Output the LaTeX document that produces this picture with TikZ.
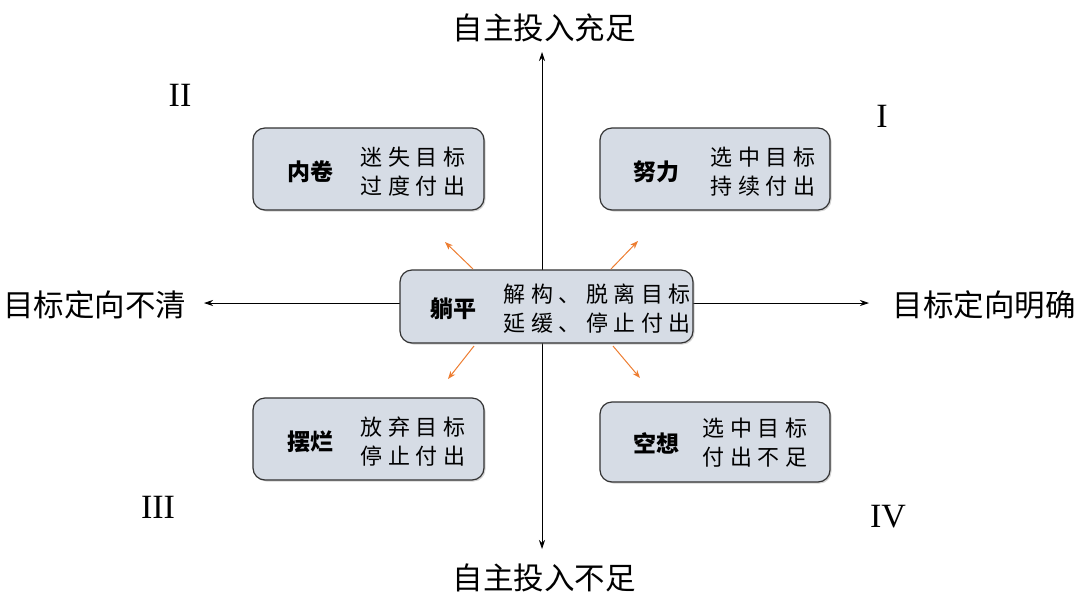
\documentclass[tikz,border=0pt]{standalone}
\usepackage{fontspec}
\setmainfont{Liberation Serif}
\newfontfamily\cjk{Noto Sans CJK SC}
\newfontfamily\cjkspaced[LetterSpace=25]{Noto Sans CJK SC}
\usetikzlibrary{arrows.meta,shadows}
\definecolor{boxfill}{HTML}{D6DCE5}
\definecolor{boxline}{HTML}{333333}
\definecolor{arrorange}{HTML}{ED7D31}
\tikzset{
  quadbox/.style={draw=boxline, line width=1.2pt, fill=boxfill, rounded corners=12pt,
    drop shadow={shadow xshift=1.5pt, shadow yshift=-1.5pt, opacity=0.35}},
  boxtitle/.style={font=\fontsize{23}{23}\selectfont\cjk\bfseries, inner sep=0pt},
  boxdesc/.style={font=\fontsize{22}{29}\selectfont\cjkspaced, align=center, inner sep=0pt},
  axis/.style={draw=black, line width=0.8pt, -{Stealth[length=9pt,width=6pt]}},
  axislabel/.style={font=\fontsize{30.5}{30.5}\selectfont\cjk, inner sep=0pt},
  roman/.style={font=\fontsize{34}{34}\selectfont, inner sep=0pt},
  orangearr/.style={draw=arrorange, line width=1pt, -{Stealth[length=8pt,width=6pt]}}
}
\begin{document}
\begin{tikzpicture}[x=1pt,y=-1pt]
\useasboundingbox (0,0) rectangle (1080,600);
% axes
\coordinate (ctr) at (542,303);
\coordinate (top) at (542,52);
\coordinate (bot) at (542,549);
\coordinate (lft) at (204,303);
\coordinate (rgt) at (869,303);
\draw[axis] (ctr) -- (top);
\draw[axis] (ctr) -- (bot);
\draw[axis] (ctr) -- (lft);
\draw[axis] (ctr) -- (rgt);
\node[axislabel] (ltop) at (544,28) {自主投入充足};
\node[axislabel] (lbot) at (544,578) {自主投入不足};
\node[axislabel] (llft) at (95,305) {目标定向不清};
\node[axislabel] (lrgt) at (984,305) {目标定向明确};
% roman numerals
\node[roman] (q1) at (882,116) {I};
\node[roman] (q2) at (180,95) {II};
\node[roman] (q3) at (158,507) {III};
\node[roman] (q4) at (888,517) {IV};
% boxes
\path[quadbox] (253,128) rectangle (484,210);
\path[quadbox] (600,128) rectangle (830,210);
\path[quadbox] (253,398) rectangle (484,480);
\path[quadbox] (600,402) rectangle (830,482);
\path[quadbox] (400,270) rectangle (693,343);
\node[boxtitle] (t1) at (310,172) {内卷};
\node[boxdesc] (d1) at (413,172) {迷失目标\\过度付出};
\node[boxtitle] (t2) at (656,172) {努力};
\node[boxdesc] (d2) at (763,172) {选中目标\\持续付出};
\node[boxtitle] (t3) at (310,442) {摆烂};
\node[boxdesc] (d3) at (413,442) {放弃目标\\停止付出};
\node[boxtitle] (t4) at (656,443) {空想};
\node[boxdesc] (d4) at (755,443) {选中目标\\付出不足};
\node[boxtitle] (t5) at (453,309) {躺平};
\node[boxdesc] (d5) at (597,309) {解构、脱离目标\\延缓、停止付出};
% orange arrows
\coordinate (a1s) at (473,269); \coordinate (a1e) at (445,242);
\coordinate (a2s) at (611,269); \coordinate (a2e) at (638,241);
\coordinate (a3s) at (474,346); \coordinate (a3e) at (448,379);
\coordinate (a4s) at (613,346); \coordinate (a4e) at (640,378);
\draw[orangearr] (a1s) -- (a1e);
\draw[orangearr] (a2s) -- (a2e);
\draw[orangearr] (a3s) -- (a3e);
\draw[orangearr] (a4s) -- (a4e);
\end{tikzpicture}
\end{document}
